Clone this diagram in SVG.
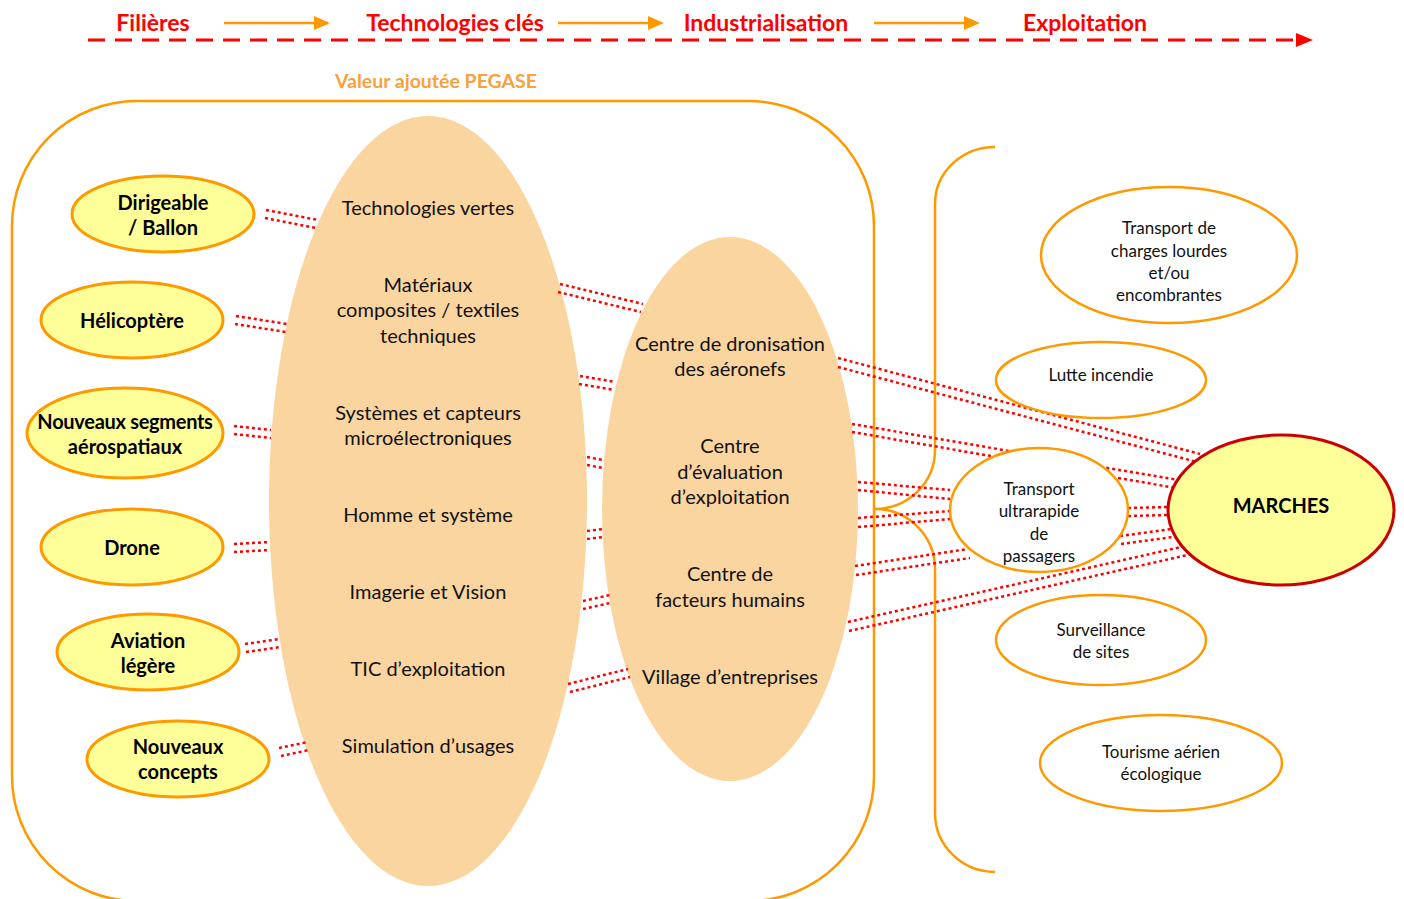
<svg xmlns="http://www.w3.org/2000/svg" width="1404" height="899" viewBox="0 0 1404 899">
<style>
.hdr{font-family:Lato,"Liberation Sans",sans-serif;font-weight:bold;font-size:23px;fill:#FF0000;text-anchor:middle}
.val{font-family:Lato,"Liberation Sans",sans-serif;font-weight:bold;font-size:19.5px;fill:#F9A040;text-anchor:middle}
.fil{fill:#FFFF99;stroke:#FF9900;stroke-width:3}
.ft{font-family:Lato,"Liberation Sans",sans-serif;font-weight:bold;font-size:20px;fill:#000;text-anchor:middle}
.tt{font-family:Lato,"Liberation Sans",sans-serif;font-size:20px;fill:#111;text-anchor:middle}
.mk{fill:#fff;stroke:#FF9900;stroke-width:2.5}
.mt{font-family:Lato,"Liberation Sans",sans-serif;font-size:17px;fill:#111;text-anchor:middle}
.peach{fill:#FBD59F}
.orl{fill:none;stroke:#FF9900;stroke-width:2.5}
.cn path{fill:none;stroke:#FF0000;stroke-width:2.5;stroke-dasharray:3 3}
</style>
<rect width="1404" height="899" fill="#fff"/>

<g id="header">
<text class="hdr" x="153" y="31">Filières</text>
<text class="hdr" x="455" y="31">Technologies clés</text>
<text class="hdr" x="766" y="31">Industrialisation</text>
<text class="hdr" x="1085" y="31">Exploitation</text>
<line x1="224" y1="23" x2="328" y2="23" stroke="#FF9900" stroke-width="2.5"/>
<path d="M314,16 L330,23 L314,30 z" fill="#FF9900"/>
<line x1="558" y1="23" x2="650" y2="23" stroke="#FF9900" stroke-width="2.5"/>
<path d="M648,16 L664,23 L648,30 z" fill="#FF9900"/>
<line x1="874" y1="23" x2="966" y2="23" stroke="#FF9900" stroke-width="2.5"/>
<path d="M964,16 L980,23 L964,30 z" fill="#FF9900"/>
<line x1="88" y1="40" x2="1298" y2="40" stroke="#FF0000" stroke-width="3" stroke-dasharray="17 10"/>
<path d="M1296,33 L1313,40 L1296,47 z" fill="#FF0000"/>
<text class="val" x="436" y="88">Valeur ajoutée PEGASE</text>
</g>

<g id="frame">
<rect class="orl" x="12" y="101" width="862" height="800" rx="125" ry="125" stroke-width="3"/>
<path class="orl" d="M995,147 A60,57 0 0 0 935,204 L935,450 A60,59 0 0 1 875,509 A60,60 0 0 1 935,569 L935,813 A60,59 0 0 0 995,872"/>
</g>

<g id="tech">
<ellipse class="peach" cx="428" cy="501" rx="159" ry="385"/>
<text class="tt" x="428" y="215">Technologies vertes</text>
<text class="tt" x="428" y="292">Matériaux</text>
<text class="tt" x="428" y="317">composites / textiles</text>
<text class="tt" x="428" y="343">techniques</text>
<text class="tt" x="428" y="420">Systèmes et capteurs</text>
<text class="tt" x="428" y="445">microélectroniques</text>
<text class="tt" x="428" y="522">Homme et système</text>
<text class="tt" x="428" y="599">Imagerie et Vision</text>
<text class="tt" x="428" y="676">TIC d’exploitation</text>
<text class="tt" x="428" y="753">Simulation d’usages</text>
</g>

<g id="indus">
<ellipse class="peach" cx="730" cy="509" rx="128" ry="272"/>
<text class="tt" x="730" y="351">Centre de dronisation</text>
<text class="tt" x="730" y="376">des aéronefs</text>
<text class="tt" x="730" y="453">Centre</text>
<text class="tt" x="730" y="479">d’évaluation</text>
<text class="tt" x="730" y="504">d’exploitation</text>
<text class="tt" x="730" y="581">Centre de</text>
<text class="tt" x="730" y="607">facteurs humains</text>
<text class="tt" x="730" y="684">Village d’entreprises</text>
</g>

<g id="connectors" class="cn">
<path d="M266,210 L318,220 M265,218 L316,228"/>
<path d="M236,316 L287,324 M235,324 L286,332"/>
<path d="M234,426 L271,430 M234,434 L271,438"/>
<path d="M234,544 L270,542 M234,552 L270,550"/>
<path d="M245,644 L280,639 M246,652 L281,647"/>
<path d="M279,748 L308,742 M281,756 L309,750"/>

<path d="M560,284 L643,304 M558,292 L641,312"/>
<path d="M580,376 L615,382 M579,384 L614,390"/>
<path d="M587,457 L603,460 M587,465 L603,468"/>
<path d="M587,531 L603,529 M587,539 L603,537"/>
<path d="M583,601 L610,595 M583,609 L610,603"/>
<path d="M568,684 L628,669 M570,692 L630,677"/>

<path d="M838,358 L1200,454 M838,367 L1197,462"/>
<path d="M852,424 L1178,480 M852,432 L1176,488"/>
<path d="M858,482 L950,490 M858,490 L950,499"/>
<path d="M858,518 L950,511 M858,527 L950,519"/>
<path d="M855,566 L968,549 M856,575 L970,558"/>
<path d="M848,622 L1190,545 M849,631 L1192,554"/>
<path d="M1128,508 L1168,507 M1128,516 L1168,515"/>
<path d="M1120,536 L1172,529 M1121,544 L1173,537"/>
</g>

<g id="filieres">
<g id="f-dirigeable"><ellipse class="fil" cx="163" cy="214" rx="91" ry="38"/><text class="ft" x="163" y="210">Dirigeable</text><text class="ft" x="163" y="235">/ Ballon</text></g>
<g id="f-helico"><ellipse class="fil" cx="132" cy="320" rx="91" ry="38"/><text class="ft" x="132" y="328">Hélicoptère</text></g>
<g id="f-nouveaux-seg"><ellipse class="fil" cx="125" cy="433" rx="98" ry="45"/><text class="ft" x="125" y="429" letter-spacing="-0.3">Nouveaux segments</text><text class="ft" x="125" y="454">aérospatiaux</text></g>
<g id="f-drone"><ellipse class="fil" cx="132" cy="547" rx="91" ry="38"/><text class="ft" x="132" y="555">Drone</text></g>
<g id="f-aviation"><ellipse class="fil" cx="148" cy="652" rx="91" ry="38"/><text class="ft" x="148" y="648">Aviation</text><text class="ft" x="148" y="673">légère</text></g>
<g id="f-concepts"><ellipse class="fil" cx="178" cy="759" rx="91" ry="38"/><text class="ft" x="178" y="754">Nouveaux</text><text class="ft" x="178" y="779">concepts</text></g>
</g>

<g id="marches-group">
<g id="m-charges"><ellipse class="mk" cx="1169" cy="255" rx="128" ry="68"/><text class="mt" x="1169" y="234">Transport de</text><text class="mt" x="1169" y="257">charges lourdes</text><text class="mt" x="1169" y="279">et/ou</text><text class="mt" x="1169" y="301">encombrantes</text></g>
<g id="m-incendie"><ellipse class="mk" cx="1101" cy="380" rx="105" ry="38"/><text class="mt" x="1101" y="381">Lutte incendie</text></g>
<g id="m-ultrarapide"><ellipse class="mk" cx="1039" cy="510" rx="89" ry="62"/><text class="mt" x="1039" y="495">Transport</text><text class="mt" x="1039" y="517">ultrarapide</text><text class="mt" x="1039" y="540">de</text><text class="mt" x="1039" y="562">passagers</text></g>
<g id="m-surveillance"><ellipse class="mk" cx="1101" cy="640" rx="105" ry="45"/><text class="mt" x="1101" y="636">Surveillance</text><text class="mt" x="1101" y="658">de sites</text></g>
<g id="m-tourisme"><ellipse class="mk" cx="1161" cy="763" rx="121" ry="48"/><text class="mt" x="1161" y="758">Tourisme aérien</text><text class="mt" x="1161" y="780">écologique</text></g>
<g id="marches"><ellipse cx="1281" cy="510" rx="113" ry="75" fill="#FFFF99" stroke="#CC0000" stroke-width="3"/><text class="ft" x="1281" y="513">MARCHES</text></g>
</g>
</svg>
